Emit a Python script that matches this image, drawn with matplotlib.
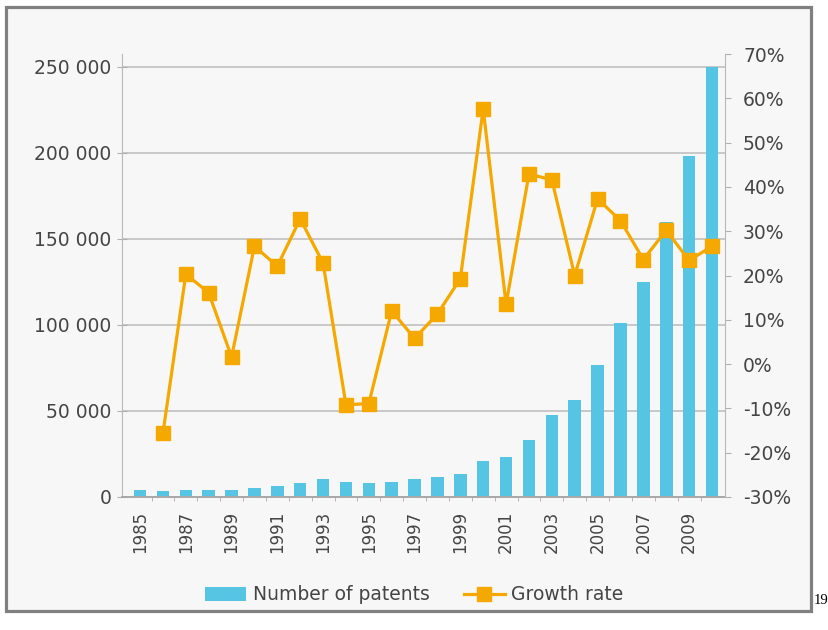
import numpy as np
import matplotlib.pyplot as plt
from matplotlib.patches import Rectangle

years = list(range(1985, 2011))
patents = [4000, 3500, 4000, 4000, 3800, 5200, 6400, 8300, 10600, 8900,
           8300, 8700, 10300, 11800, 13200, 21000, 23500, 33300, 47400, 56300,
           76800, 100900, 125000, 159800, 198400, 249600]
growth = [np.nan, -15.6, 20.3, 16.1, 1.6, 26.6, 22.1, 32.8, 22.8, -9.2,
          -8.9, 12.0, 5.8, 11.3, 19.3, 57.6, 13.5, 42.9, 41.6, 20.0,
          37.3, 32.4, 23.6, 30.2, 23.4, 26.6]
left_ticks = [0, 50000, 100000, 150000, 200000, 250000]
left_labels = ['0', '50 000', '100 000', '150 000', '200 000', '250 000']
right_ticks = list(range(-30, 80, 10))

bar_col = '#56c4e3'
line_col = '#f5a800'
txt_col = '#454545'
grid_col = '#c8c8c8'

plt.rcParams['font.family'] = 'DejaVu Sans'

fig = plt.figure(figsize=(8.29, 6.30), dpi=100)
fig.patch.set_facecolor('white')

# grey frame round the chart, kept behind the axes
W, H = 829, 630
fig.patches.append(Rectangle((6.5 / W, 1 - 611 / H), 804.5 / W, 604.5 / H,
                             transform=fig.transFigure, facecolor='#f7f7f7',
                             edgecolor='#808080', lw=2.3, zorder=-5))
fig.text(828 / W, 1 - 604 / H, '19', family='Liberation Serif', fontsize=10.5,
         color='black', ha='right', va='baseline')

ax = fig.add_axes([122 / W, 1 - 497 / H, (725 - 122) / W, (497 - 54) / H])
ax.set_facecolor('none')
x = np.arange(len(years))
bars = ax.bar(x, patents, width=0.55, color=bar_col, label='Number of patents', zorder=2)

ax.set_xlim(-0.79, 25.57)
ax.set_ylim(0, 257400)
ax.set_yticks(left_ticks)
ax.set_yticklabels(left_labels)
ax.yaxis.grid(True, color=grid_col, lw=1.4)
ax.set_axisbelow(True)

ax.set_xticks(x[::2])
ax.set_xticklabels([str(y) for y in years[::2]], rotation=90)
ax.set_xticks(x[:-1] + 0.5, minor=True)
ax.tick_params(axis='x', which='major', length=0, pad=10, labelsize=12, labelcolor=txt_col)
ax.tick_params(axis='x', which='minor', length=3, direction='out', color='#c0a0a0')
ax.tick_params(axis='y', length=7, direction='inout', pad=4, labelsize=13.5,
               labelcolor=txt_col, color='#b0b0b0')

ax.spines['top'].set_visible(False)
ax.spines['right'].set_visible(False)
ax.spines['left'].set_color('#b8b8b8')
ax.spines['bottom'].set_color('#a8a8a8')
ax.spines['bottom'].set_linewidth(1.4)

ax2 = ax.twinx()
line, = ax2.plot(x, growth, color=line_col, lw=2.3, marker='s', markersize=9.5,
                 label='Growth rate', zorder=3)
ax2.set_ylim(-30, 70)
ax2.set_yticks(right_ticks)
ax2.set_yticklabels(['%d%%' % t for t in right_ticks])
ax2.tick_params(axis='y', length=4, direction='out', pad=9, labelsize=13.5,
                labelcolor=txt_col, color='#b0b0b0')
ax2.spines['top'].set_visible(False)
ax2.spines['left'].set_visible(False)
ax2.spines['bottom'].set_visible(False)
ax2.spines['right'].set_color('#b8b8b8')

fig.legend(handles=[bars, line], loc='center', bbox_to_anchor=(0.5, 1 - 595 / H),
           ncol=2, frameon=False, fontsize=13.5, labelcolor=txt_col,
           handlelength=2.2, handletextpad=0.35, columnspacing=1.8)

fig.savefig('out.png', dpi=100, facecolor=fig.get_facecolor())
